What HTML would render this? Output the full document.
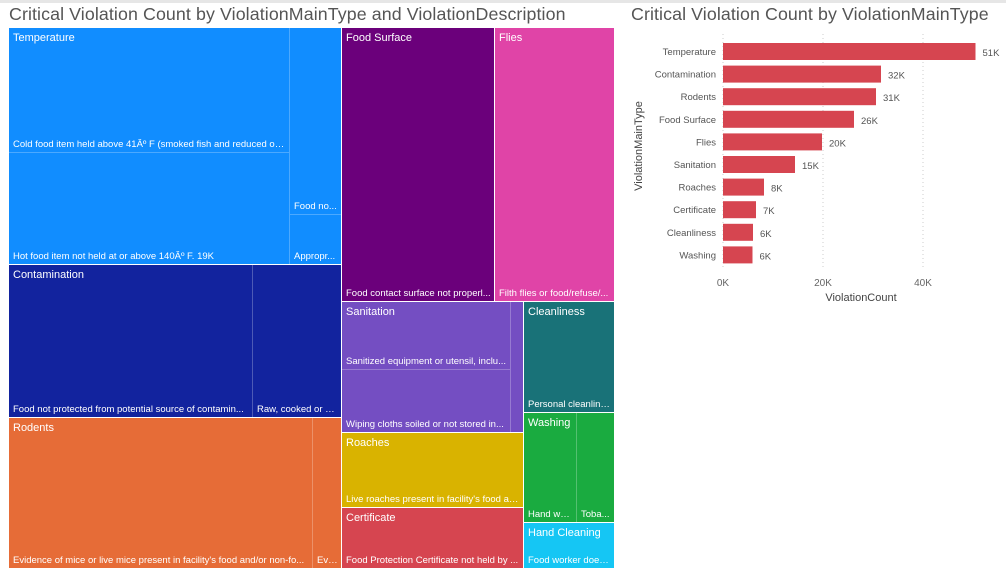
<!DOCTYPE html>
<html><head><meta charset="utf-8"><style>
body{margin:0;width:1006px;height:570px;background:#fff;position:relative;overflow:hidden;font-family:"Liberation Sans",sans-serif}
.topbar{position:absolute;left:0;top:0;width:1006px;height:3px;background:#e6e6e6}
.title{position:absolute;font-size:17.8px;color:#555;white-space:nowrap;letter-spacing:0.1px}
.cell{position:absolute;box-sizing:border-box;overflow:hidden}
.leaf{position:absolute;box-sizing:border-box;border-right:1px solid rgba(255,255,255,0.25);border-bottom:1px solid rgba(255,255,255,0.25)}
.grp{position:absolute;color:#fff;font-size:11px;left:4px;top:4px;white-space:nowrap}
.lbl{position:absolute;color:#fff;font-size:9.5px;left:4px;bottom:2px;white-space:nowrap;overflow:hidden;text-overflow:ellipsis;right:3px}
svg text{font-family:"Liberation Sans",sans-serif}
</style></head><body>
<div class="topbar"></div>
<div class="title" style="left:9px;top:4px">Critical Violation Count by ViolationMainType and ViolationDescription</div>
<div class="title" style="left:631px;top:4px">Critical Violation Count by ViolationMainType</div>

<div id="treemap"></div>

<svg id="bar" width="1006" height="570" style="position:absolute;left:0;top:0"></svg>

<script>
const groups=[
 {n:"Temperature",c:"#118DFF",x:9,y:28,w:333,h:237,leaves:[
   [0,0,281,125,"Cold food item held above 41Âº F (smoked fish and reduced ox..."],
   [0,125,281,112,"Hot food item not held at or above 140Âº F. 19K"],
   [281,0,52,187,"Food no..."],[281,187,52,50,"Appropr..."]]},
 {n:"Food Surface",c:"#6B007B",x:342,y:28,w:153,h:274,leaves:[[0,0,153,274,"Food contact surface not properl..."]]},
 {n:"Flies",c:"#E044A7",x:495,y:28,w:120,h:274,leaves:[[0,0,120,274,"Filth flies or food/refuse/..."]]},
 {n:"Contamination",c:"#12239E",x:9,y:265,w:333,h:153,leaves:[[0,0,244,153,"Food not protected from potential source of contamin..."],[244,0,89,153,"Raw, cooked or p..."]]},
 {n:"Rodents",c:"#E66C37",x:9,y:418,w:333,h:151,leaves:[[0,0,304,151,"Evidence of mice or live mice present in facility's food and/or non-fo..."],[304,0,29,151,"Evi..."]]},
 {n:"Sanitation",c:"#744EC2",x:342,y:302,w:182,h:131,leaves:[[0,0,169,68,"Sanitized equipment or utensil, inclu..."],[0,68,169,63,"Wiping cloths soiled or not stored in..."],[169,0,13,131,""]]},
 {n:"Roaches",c:"#D9B300",x:342,y:433,w:182,h:75,leaves:[[0,0,182,75,"Live roaches present in facility's food an..."]]},
 {n:"Certificate",c:"#D64550",x:342,y:508,w:182,h:61,leaves:[[0,0,182,61,"Food Protection Certificate not held by ..."]]},
 {n:"Cleanliness",c:"#197278",x:524,y:302,w:91,h:111,leaves:[[0,0,91,111,"Personal cleanline..."]]},
 {n:"Washing",c:"#1AAB40",x:524,y:413,w:91,h:110,leaves:[[0,0,53,110,"Hand wa..."],[53,0,38,110,"Toba..."]]},
 {n:"Hand Cleaning",c:"#15C6F4",x:524,y:523,w:91,h:46,leaves:[[0,0,91,46,"Food worker does..."]]}
];
const tm=document.getElementById('treemap');
groups.forEach(g=>{
 const d=document.createElement('div');d.className='cell';
 
 
 d.style.cssText=`left:${g.x}px;top:${g.y}px;width:${g.w}px;height:${g.h}px;background:${g.c};border-right:1px solid #fff;border-bottom:1px solid #fff`;
 g.leaves.forEach(l=>{
  const e=document.createElement('div');e.className='leaf';
  
  
  e.style.cssText=`left:${l[0]}px;top:${l[1]}px;width:${l[2]}px;height:${l[3]}px`;
  if(l[4]){const t=document.createElement('div');t.className='lbl';t.textContent=l[4];
   
   
   e.appendChild(t);}
  d.appendChild(e);
 });
 const t=document.createElement('div');t.className='grp';t.textContent=g.n;
 
 
 d.appendChild(t);
 tm.appendChild(d);
});

const categories=["Temperature","Contamination","Rodents","Food Surface","Flies","Sanitation","Roaches","Certificate","Cleanliness","Washing"];
const values=[50.5,31.6,30.6,26.2,19.8,14.4,8.2,6.6,6.0,5.9];
const valueLabels=["51K","32K","31K","26K","20K","15K","8K","7K","6K","6K"];
const ticks=[0,20,40];
const tickLabels=["0K","20K","40K"];

const svg=document.getElementById('bar');const NS='http://www.w3.org/2000/svg';
const x0=723,pxPer=5,yTop=40,band=22.6,bh=17;
const xs=v=>x0+v*pxPer, ys=i=>yTop+i*band;
function mk(tag,attrs,txt){const e=document.createElementNS(NS,tag);for(const k in attrs)e.setAttribute(k,attrs[k]);if(txt!==undefined)e.textContent=txt;svg.appendChild(e);return e;}
ticks.forEach((t,i)=>{
 const l=mk('line',{x1:xs(t),x2:xs(t),y1:34,y2:270,stroke:'#ccc','stroke-dasharray':'1,3'});
 
 
 const tx=mk('text',{x:xs(t),y:286,'text-anchor':'middle','font-size':'10',fill:'#666'},tickLabels[i]);
 
 
});
categories.forEach((c,i)=>{
 const r=mk('rect',{x:x0,y:ys(i)+3,width:xs(values[i])-x0,height:bh,fill:'#D64550'});
 
 
 const t=mk('text',{x:716,y:ys(i)+15,'text-anchor':'end','font-size':'9.5',fill:'#555'},c);
 
 
 const v=mk('text',{x:xs(values[i])+7,y:ys(i)+16,'font-size':'9.5',fill:'#555'},valueLabels[i]);
 
 
});
const xt=mk('text',{x:861,y:301,'text-anchor':'middle','font-size':'11',fill:'#444'},'ViolationCount');


const yt=mk('text',{x:0,y:0,'text-anchor':'middle','font-size':'11',fill:'#444',transform:'translate(642,146) rotate(-90)'},'ViolationMainType');


</script>
</body></html>
